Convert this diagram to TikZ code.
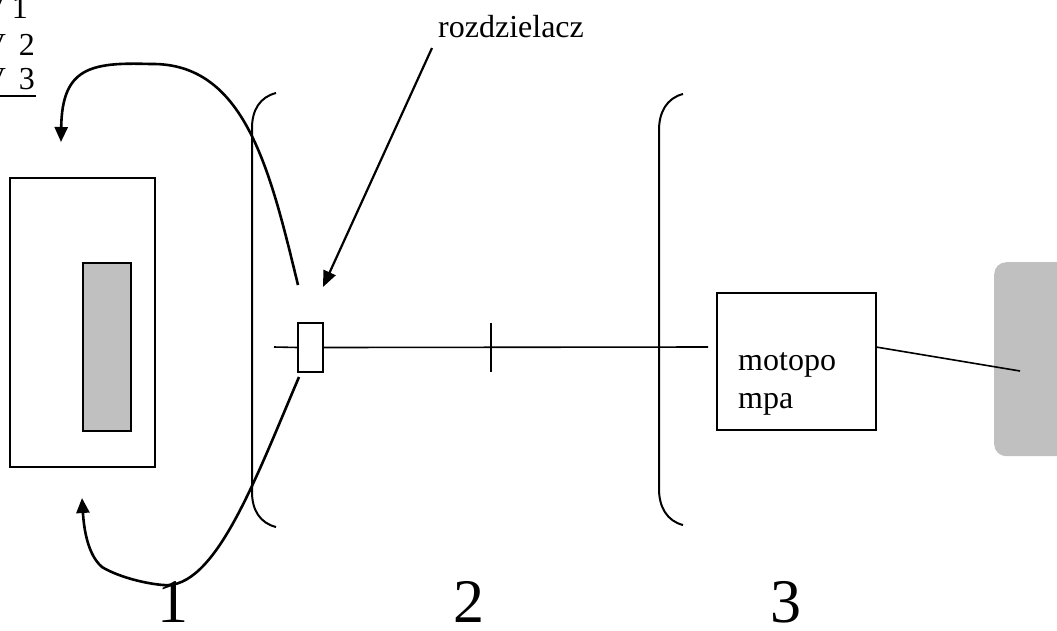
\documentclass[tikz,border=0pt]{standalone}
\usepackage{fontspec}
\setmainfont{Liberation Serif}
\usetikzlibrary{arrows.meta}
\definecolor{boxgray}{HTML}{C0C0C0}
\begin{document}
\begin{tikzpicture}[x=1pt,y=-1pt,
  box/.style={draw,line width=2pt,inner sep=0pt,outer sep=0pt},
  curve/.style={line width=2.6pt,-{Triangle[length=15pt,width=13pt]}},
  thin line/.style={line width=1.6pt},
  lbl/.style={inner sep=0pt,font=\fontsize{32}{36}\selectfont},
  big/.style={inner sep=0pt,font=\fontsize{62}{66}\selectfont},
  small/.style={inner sep=0pt,font=\fontsize{32}{36}\selectfont}]
\useasboundingbox (0,0) rectangle (1057,630);
% gray panel at the right
\node[fill=boxgray,rounded corners=12pt,inner sep=0pt,minimum width=80pt,minimum height=194pt,anchor=north west] (panel) at (994,262) {};
% tank
\node[box,minimum width=145pt,minimum height=289pt] (tank) at (82.5,322.5) {};
\node[box,fill=boxgray,minimum width=48pt,minimum height=168pt] (inner) at (107,347) {};
% distributor
\node[box,minimum width=25pt,minimum height=49pt] (dist) at (310.5,347.5) {};
% motopompa
\node[box,minimum width=159pt,minimum height=137pt] (mp) at (796.5,361.5) {};
\node[lbl,anchor=base west] (mpt1) at (738,370) {motopo};
\node[lbl,anchor=base west] (mpt2) at (738,408) {mpa};
% main line
\coordinate (lstart) at (274,347);
\coordinate (lend) at (708,347);
\draw[thin line] (lstart) -- (dist.west);
\draw[thin line] (dist.east) -- (lend);
\coordinate (ttop) at (491,323);
\coordinate (tbot) at (491,372);
\draw[thin line] (ttop) -- (tbot);
% line to panel
\coordinate (pend) at (1020,371);
\draw[thin line] ([yshift=14.5pt]mp.east) -- (pend);
% brackets
\draw[line width=2pt] (276,93) .. controls (260,97) and (252,110) .. (252,128) -- (252,492) .. controls (252,510) and (260,523) .. (276,527);
\draw[line width=2pt] (683,94) .. controls (667,98) and (659,112) .. (659,130) -- (659,489) .. controls (659,507) and (667,521) .. (683,525);
% label rozdzielacz
\node[lbl,anchor=base] (rozd) at (511,37) {rozdzielacz};
\coordinate (rs) at (432,48);
\coordinate (rt) at (323,287);
\draw[line width=2.2pt,-{Triangle[length=16pt,width=13pt]}] (rs) -- (rt);
% curves
\draw[curve] (298,285) .. controls (270,170) and (245,62) .. (150,64) .. controls (90,62) and (62,68) .. (61,142);
\draw[curve] (299,377) .. controls (255,480) and (215,590) .. (163,585) .. controls (140,583) and (115,575) .. (102,567) .. controls (88,555) and (84,530) .. (82,498);
% numbers
\node[big,anchor=base] (n1) at (173,622) {1};
\node[big,anchor=base] (n2) at (469,622) {2};
\node[big,anchor=base] (n3) at (786,622) {3};
% top-left list
\node[small,anchor=base east] (a1) at (28,18) {V\hspace{0.2em}1};
\node[small,anchor=base east] (a2) at (35,55) {V\hspace{0.4em}2};
\node[small,anchor=base east] (a3) at (35,89) {V\hspace{0.4em}3};
\coordinate (u1) at (0,96);
\coordinate (u2) at (36,96);
\draw[line width=1.5pt] (u1) -- (u2);
\end{tikzpicture}
\end{document}
